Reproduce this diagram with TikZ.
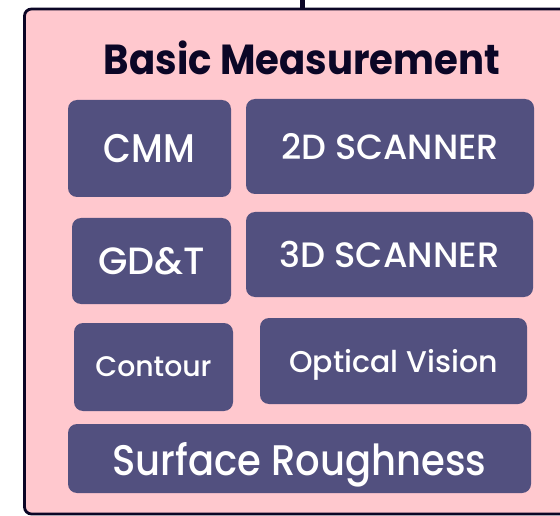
\documentclass[tikz,border=0pt]{standalone}
\usepackage{fontspec}
\setmainfont{Poppins}
\newfontfamily\toolfont{Poppins Medium}
\newfontfamily\narrowfont[FakeStretch=0.9]{Poppins Medium}
\newfontfamily\titlefont[FakeStretch=0.92]{Poppins Bold}
\definecolor{panelpink}{HTML}{FFC8CE}
\definecolor{panelline}{HTML}{0B0626}
\definecolor{toolfill}{HTML}{52507F}
\begin{document}
\begin{tikzpicture}[
    x=1pt, y=-1pt,
    panel/.style={rectangle,rounded corners=7pt,draw=panelline,line width=2.8pt,fill=panelpink},
    tool/.style={rectangle,rounded corners=9pt,fill=toolfill,text=white,inner sep=0pt,text depth=0pt},
    ]
    \useasboundingbox (0,0) rectangle (560,516);

    % outer panel and its link upwards:
    \node (panel) at (302,261.5) [panel,minimum width=555pt,minimum height=505pt] {};
    \coordinate (up) at (302,0);
    \draw [draw=panelline,line width=5pt] (panel.north -| up) to (up);

    % title:
    \node (title) at (302,57.5) [text=panelline,text depth=0pt,font=\titlefont\fontsize{42}{42}\selectfont] {Basic Measurement};

    % left column:
    \node (cmm) at (149.5,148.5) [tool,minimum width=163pt,minimum height=97pt,font=\narrowfont\fontsize{40}{40}\selectfont] {CMM};
    \node (gdt) at (151.5,261) [tool,minimum width=159pt,minimum height=86pt,font=\toolfont\fontsize{38}{38}\selectfont] {GD\&T};
    \node (contour) at (153.5,367) [tool,minimum width=159pt,minimum height=88pt,font=\toolfont\fontsize{28.3}{28}\selectfont] {Contour};

    % right column:
    \node (scan2d) at (390,146.5) [tool,minimum width=288pt,minimum height=95pt,font=\toolfont\fontsize{35}{35}\selectfont] {2D SCANNER};
    \node (scan3d) at (389.5,254.5) [tool,minimum width=287pt,minimum height=85pt,font=\toolfont\fontsize{35.3}{35}\selectfont] {3D SCANNER};
    \node (optical) at (393.5,361) [tool,minimum width=267pt,minimum height=86pt,font=\toolfont\fontsize{30}{30}\selectfont] {Optical Vision};

    % bottom row:
    \node (surface) at (299.5,458.5) [tool,minimum width=463pt,minimum height=69pt,font=\narrowfont\fontsize{42.8}{43}\selectfont] {Surface Roughness};

\end{tikzpicture}
\end{document}
